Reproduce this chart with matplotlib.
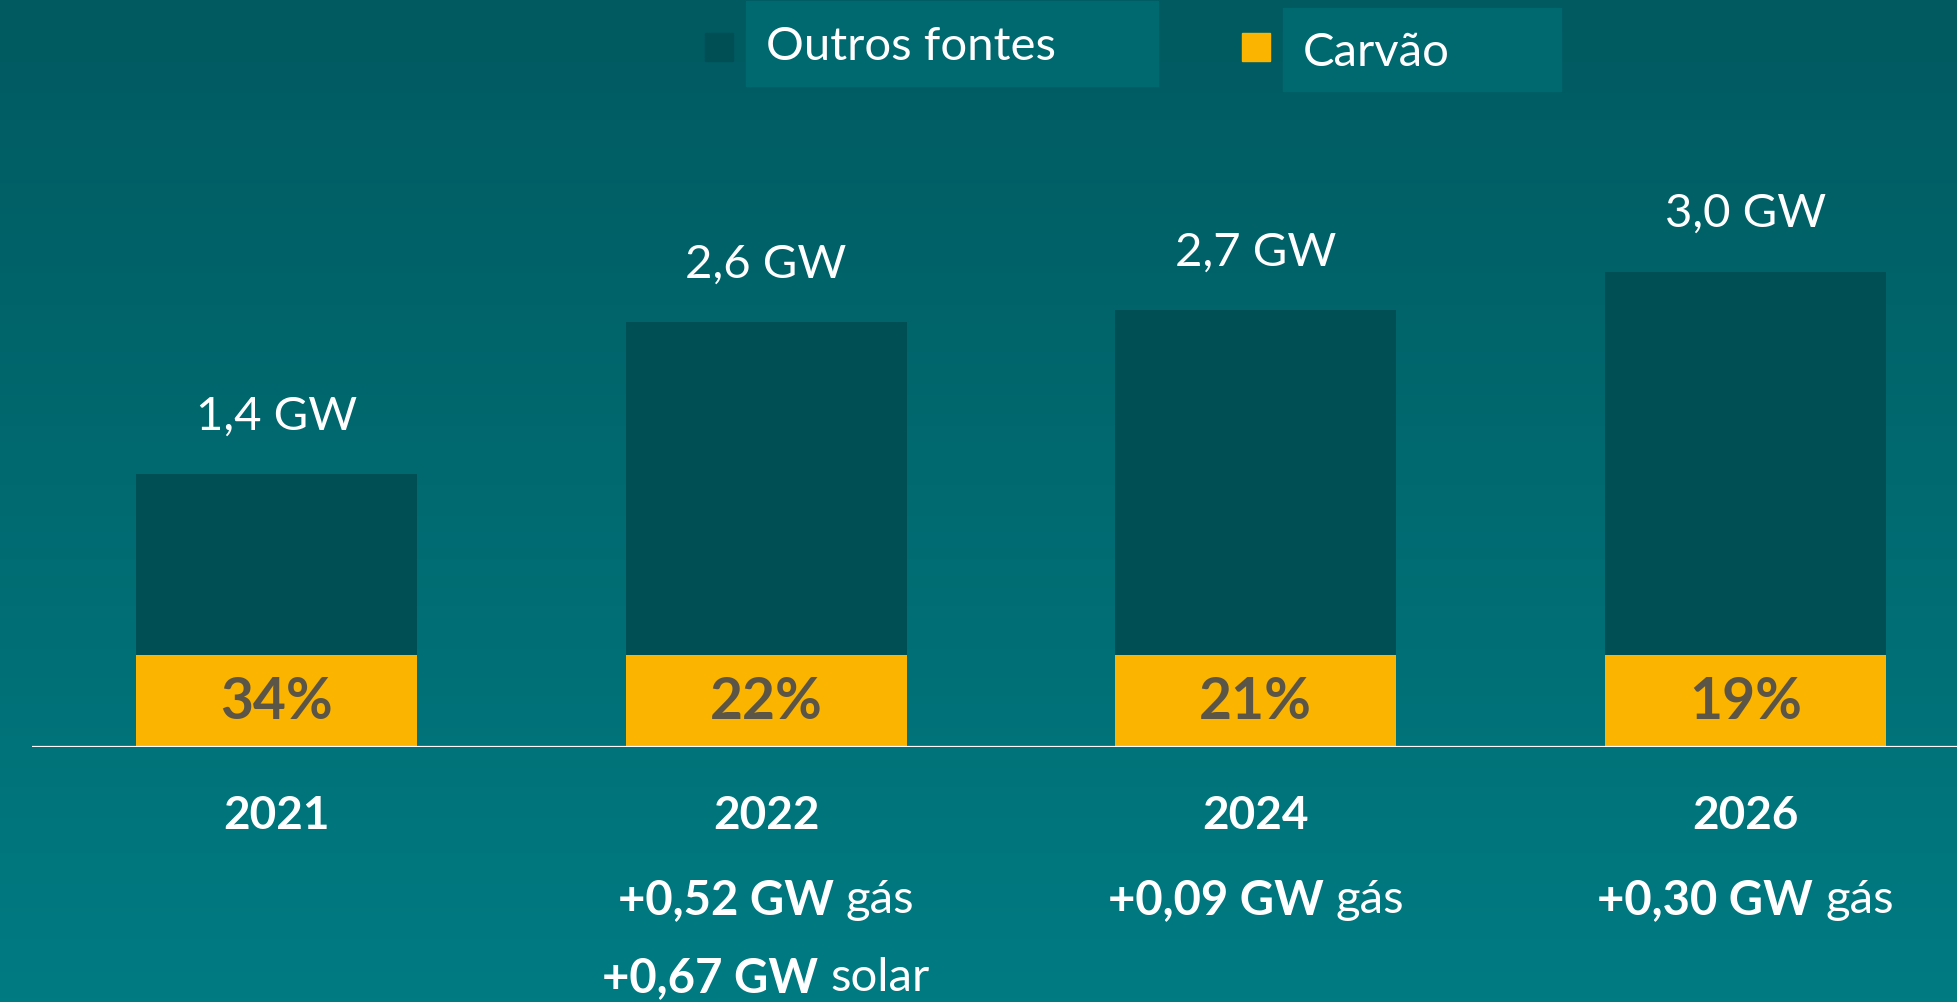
import numpy as np
import matplotlib
matplotlib.use("Agg")
from matplotlib import pyplot as plt
from matplotlib.colors import LinearSegmentedColormap
from matplotlib.patches import Rectangle
from matplotlib import transforms

plt.rcParams['font.family'] = ['Lato', 'DejaVu Sans']

# dados
anos = ['2021', '2022', '2024', '2026']
total_gw = ['1,4 GW', '2,6 GW', '2,7 GW', '3,0 GW']
carvao_pct = ['34%', '22%', '21%', '19%']
# alturas desenhadas das barras (a escala do original não é proporcional)
altura_total = [1.72, 2.68, 2.76, 3.00]
altura_carvao = [0.58, 0.58, 0.58, 0.58]
altura_outros = [t - c for t, c in zip(altura_total, altura_carvao)]
# notas por ano: lista de linhas, cada linha = (parte negrito, parte normal)
notas = [
    [],
    [('+0,52 GW', 'gás'), ('+0,67 GW', 'solar')],
    [('+0,09 GW', 'gás')],
    [('+0,30 GW', 'gás')],
]

cor_outros = '#004F55'
cor_carvao = '#FBB400'
cor_pct = '#5A5546'
cor_caixa = '#006970'

W, H = 1957, 1003
fig = plt.figure(figsize=(W / 100, H / 100), dpi=100)

# fundo em degradê
bg = fig.add_axes([0, 0, 1, 1])
cmap = LinearSegmentedColormap.from_list('fundo', ['#005A60', '#007B82'])
bg.imshow(np.linspace(0, 1, 256).reshape(-1, 1), aspect='auto', cmap=cmap,
          extent=[0, 1, 0, 1])
bg.set_axis_off()

# eixo principal
base_px = 748
ax = fig.add_axes([32 / W, (H - base_px) / H, 1 - 32 / W, base_px / H])
ax.patch.set_alpha(0)
x = np.arange(len(anos))
ax.bar(x, altura_carvao, width=0.574, color=cor_carvao)
ax.bar(x, altura_outros, width=0.574, bottom=altura_carvao, color=cor_outros)
ax.set_xlim(-0.499, 3.432)
ax.set_ylim(0, base_px / 158.5)
ax.axhline(0, color='white', lw=1.6)
ax.set_axis_off()

for i in x:
    ax.annotate(total_gw[i], (i, altura_total[i]), xytext=(0, 42),
                textcoords='offset points', ha='center', va='center',
                color='white', fontsize=34)
    ax.text(i, altura_carvao[i] / 2, carvao_pct[i], ha='center', va='center',
            color=cor_pct, fontsize=41, fontweight='bold')

# anos e notas abaixo do eixo
trans = transforms.blended_transform_factory(ax.transData, fig.transFigure)
for i in x:
    ax.text(i, 1 - 816 / H, anos[i], transform=trans, ha='center', va='center',
            color='white', fontsize=33, fontweight='bold')

renderer = fig.canvas.get_renderer()
linhas_y = [900, 978]
for i in x:
    cx = ax.transData.transform((i, 0))[0]
    for j, (negrito, normal) in enumerate(notas[i]):
        y = 1 - linhas_y[j] / H
        t1 = fig.text(0, y, negrito, color='white', fontsize=34,
                      fontweight='bold', va='center', ha='left')
        t2 = fig.text(0, y, normal, color='white', fontsize=34,
                      va='center', ha='left')
        w1 = t1.get_window_extent(renderer).width
        w2 = t2.get_window_extent(renderer).width
        gap = 12
        x0 = cx - (w1 + gap + w2) / 2
        t1.set_x(x0 / W)
        t2.set_x((x0 + w1 + gap) / W)

# legenda
def caixa(x0, y0, x1, y1, cor):
    fig.patches.append(Rectangle((x0 / W, 1 - y1 / H), (x1 - x0) / W,
                                 (y1 - y0) / H, transform=fig.transFigure,
                                 color=cor, zorder=1))

caixa(746, 2, 1158, 87, cor_caixa)
caixa(705, 34, 733, 62, cor_outros)
fig.text(766 / W, 1 - 47 / H, 'Outros fontes', color='white', fontsize=34,
         va='center', ha='left')
caixa(1283, 9, 1561, 92, cor_caixa)
caixa(1242, 34, 1270, 62, cor_carvao)
fig.text(1303 / W, 1 - 53 / H, 'Carvão', color='white', fontsize=34,
         va='center', ha='left')

fig.savefig('out.png', dpi=100)
